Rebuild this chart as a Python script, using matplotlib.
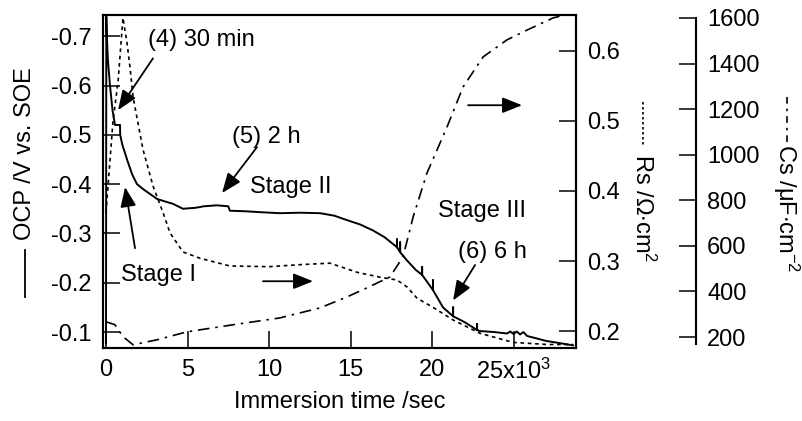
import matplotlib
matplotlib.use("Agg")
import matplotlib.pyplot as plt
from matplotlib.lines import Line2D

plt.rcParams['font.family'] = ['Liberation Sans', 'DejaVu Sans']
plt.rcParams['mathtext.fontset'] = 'custom'
plt.rcParams['mathtext.rm'] = 'Liberation Sans'
plt.rcParams['mathtext.it'] = 'Liberation Sans'
plt.rcParams['axes.unicode_minus'] = False

# ---------------- data ----------------
ocp_t = [0, 20, 50, 120, 245, 400, 550, 860, 870, 1000, 1290, 1600, 1900, 2270, 2700, 3130,
         3600, 4110, 4720, 5500, 6000, 6800, 7500, 7600, 8500, 9500, 10670, 11900, 13130,
         14000, 14780, 15600, 16380, 17100, 17850, 17850, 17850, 18040, 18040, 18040, 18470,
         19000, 19390, 19390, 19390, 20060, 20060, 20060, 20670, 21290, 21290, 21290, 22000,
         22760, 22760, 22760, 22940, 23800, 24600, 24800, 25000, 25200, 25400, 25600, 25830,
         27000, 28650]
ocp_v = [-0.077, -0.74, -0.70, -0.65, -0.60, -0.55, -0.52, -0.52, -0.50, -0.48, -0.45, -0.42,
         -0.40, -0.39, -0.38, -0.37, -0.365, -0.36, -0.35, -0.352, -0.355, -0.357, -0.355,
         -0.346, -0.345, -0.343, -0.341, -0.342, -0.341, -0.336, -0.327, -0.318, -0.306,
         -0.292, -0.272, -0.288, -0.272, -0.262, -0.282, -0.262, -0.245, -0.226, -0.216,
         -0.232, -0.216, -0.185, -0.205, -0.185, -0.15, -0.132, -0.15, -0.132, -0.12, -0.104,
         -0.116, -0.104, -0.102, -0.100, -0.097, -0.101, -0.096, -0.101, -0.095, -0.100,
         -0.092, -0.082, -0.073]

rs_t = [0, 200, 430, 740, 1040, 1290, 1470, 1660, 2270, 2900, 3500, 3930, 4720, 5770, 7600,
        10000, 12000, 13740, 15400, 16800, 17850, 18470, 19080, 20060, 21290, 22940, 24970,
        27060, 28650]
rs_v = [0.369, 0.43, 0.50, 0.556, 0.647, 0.611, 0.577, 0.534, 0.459, 0.406, 0.369, 0.34,
        0.313, 0.304, 0.293, 0.292, 0.295, 0.297, 0.284, 0.277, 0.273, 0.263, 0.247, 0.234,
        0.216, 0.197, 0.184, 0.181, 0.181]

cs_t = [0, 550, 1040, 1660, 3130, 4970, 7800, 10670, 13130, 14780, 16010, 17420, 18220,
        18840, 19690, 20920, 21900, 23130, 24600, 25830, 27420, 28800]
cs_v = [267, 254, 202, 166, 188, 223, 254, 284, 328, 376, 416, 464, 552, 727, 920, 1122,
        1297, 1429, 1504, 1547, 1600, 1625]

x_ticks = [0, 5000, 10000, 15000, 20000, 25000]
x_labels = ['0', '5', '10', '15', '20', r'25x10$^{3}$']
ocp_ticks = [-0.7, -0.6, -0.5, -0.4, -0.3, -0.2, -0.1]
rs_ticks = [0.2, 0.3, 0.4, 0.5, 0.6]
cs_ticks = [200, 400, 600, 800, 1000, 1200, 1400, 1600]

# ---------------- figure ----------------
W, H = 803, 421
fig = plt.figure(figsize=(W / 100, H / 100), dpi=100)
L, R, T, B = 103, 576, 15, 348
ax = fig.add_axes([L / W, 1 - B / H, (R - L) / W, (B - T) / H])
ax2 = ax.twinx()
ax3 = ax.twinx()

FS = 17
lw_sp = 1.5
tick_kw = dict(direction='in', length=12, width=1.1, labelsize=FS)

ax.plot(ocp_t, ocp_v, color='black', lw=1.4, solid_joinstyle='round')
ax2.plot(rs_t, rs_v, color='black', lw=1.2, linestyle=(0, (2.2, 2.2)))
ax3.plot(cs_t, cs_v, color='black', lw=1.2, linestyle=(0, (7, 3.5, 1.5, 3.5)))

ax.set_xlim(-184, 28830)
ax.set_ylim(-0.0676, -0.743)
ax2.set_ylim(0.176, 0.651)
ax3.set_ylim(152, 1613)

ax.set_xticks(x_ticks)
ax.set_xticklabels(x_labels)
ax.set_yticks(ocp_ticks)
ax.set_yticklabels([f'{v:.1f}' for v in ocp_ticks])
ax2.set_yticks(rs_ticks)
ax2.set_yticklabels([f'{v:.1f}' for v in rs_ticks])
ax3.set_yticks(cs_ticks)
ax3.set_yticklabels([str(v) for v in cs_ticks])

ax.tick_params(axis='x', pad=8, **tick_kw)
ax.tick_params(axis='y', pad=8, **tick_kw)
ax2.tick_params(axis='y', pad=8, **tick_kw)
ax3.tick_params(axis='y', pad=8, **tick_kw)

for a in (ax, ax2):
    for s in a.spines.values():
        s.set_linewidth(lw_sp)
for s in ['top', 'left', 'bottom']:
    ax3.spines[s].set_visible(False)
ax3.spines['right'].set_position(('axes', (696 - L) / (R - L)))
ax3.spines['right'].set_bounds(170, 1600)
ax3.spines['right'].set_linewidth(lw_sp)

ax.set_xlabel('Immersion time /sec', fontsize=FS, labelpad=5)

# axis labels with line-style keys
def px(x, y):
    return x / W, 1 - y / H

fig.text(*px(25, 154), 'OCP /V vs. SOE', rotation=90, fontsize=FS, ha='center', va='center')
fig.add_artist(Line2D([25 / W, 25 / W], [1 - 250 / H, 1 - 297 / H], color='black', lw=1.3))

fig.text(*px(643, 208), r'Rs /$\Omega$$\cdot$cm$^{2}$', rotation=270, fontsize=FS,
         ha='center', va='center')
fig.add_artist(Line2D([643 / W, 643 / W], [1 - 102 / H, 1 - 147 / H], color='black', lw=1.2,
                      linestyle=(0, (1.5, 1.5))))

fig.text(*px(786, 208), r'Cs /$\mu$F$\cdot$cm$^{-2}$', rotation=270, fontsize=FS,
         ha='center', va='center')
fig.add_artist(Line2D([787 / W, 787 / W], [1 - 97 / H, 1 - 142 / H], color='black', lw=1.2,
                      linestyle=(0, (4, 3, 1.5, 3))))

# annotations
arw = dict(arrowstyle='-|>,head_length=0.6,head_width=0.24', color='black', lw=1.3,
           mutation_scale=20, shrinkA=0, shrinkB=0)
ax.text(2580, -0.692, '(4) 30 min', fontsize=FS, ha='left', va='center')
ax.annotate('', xy=(740, -0.55), xytext=(2880, -0.655), arrowprops=arw)
ax.text(7730, -0.495, '(5) 2 h', fontsize=FS, ha='left', va='center')
ax.annotate('', xy=(7120, -0.382), xytext=(9260, -0.475), arrowprops=arw)
ax.text(8830, -0.394, 'Stage II', fontsize=FS, ha='left', va='center')
ax.text(920, -0.215, 'Stage I', fontsize=FS, ha='left', va='center')
ax.annotate('', xy=(1170, -0.394), xytext=(1780, -0.27), arrowprops=arw)
ax.text(20370, -0.345, 'Stage III', fontsize=FS, ha='left', va='center')
ax.text(21600, -0.262, '(6) 6 h', fontsize=FS, ha='left', va='center')
ax.annotate('', xy=(21290, -0.164), xytext=(22640, -0.236), arrowprops=arw)
ax.annotate('', xy=(12700, -0.203), xytext=(9630, -0.203), arrowprops=arw)
ax.annotate('', xy=(25520, -0.560), xytext=(22210, -0.560), arrowprops=arw)

fig.savefig('out.png', dpi=100)
